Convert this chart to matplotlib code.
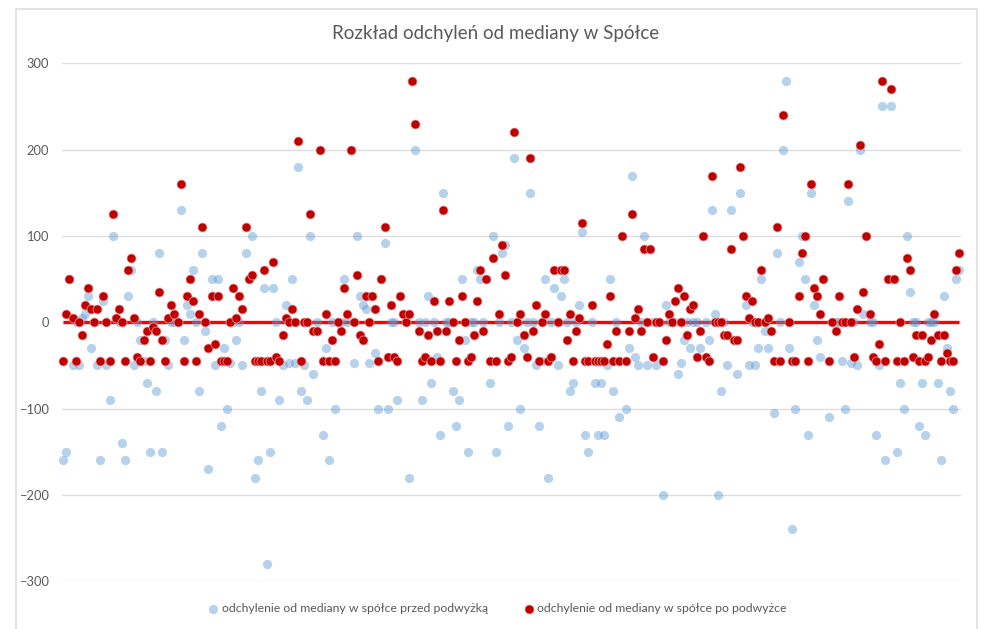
import numpy as np
import matplotlib
matplotlib.use('Agg')
import matplotlib.pyplot as plt
from matplotlib.patches import Rectangle

nan = float('nan')

title = 'Rozkład odchyleń od mediany w Spółce'
label_przed = 'odchylenie od mediany w spółce przed podwyżką'
label_po = 'odchylenie od mediany w spółce po podwyżce'
yticks = [-300, -200, -100, 0, 100, 200, 300]

# przed podwyzka
przed = [
  -160,-150,50,-50,0,-50,5,10,30,-30,
  0,-50,-160,25,-50,-90,100,5,0,-140,
  -160,30,60,-50,0,-20,-45,-70,-150,0,
  -80,80,-150,-20,-50,0,0,0,130,-20,
  20,10,60,0,-80,80,-10,-170,50,-50,
  50,-120,-30,-100,-47,0,-20,0,-50,80,
  50,100,-180,-160,-80,40,-280,-150,40,0,
  -90,-50,20,-47,50,-47,180,-80,-50,-90,
  100,-60,0,200,-130,-30,-160,0,-100,0,
  0,50,0,200,-47,100,30,20,15,-47,
  30,-35,-100,50,92,-100,0,0,-90,30,
  10,0,-180,280,200,0,-90,0,30,-70,
  0,-40,-130,150,0,0,-80,-120,-90,50,
  -20,-150,0,0,60,50,0,50,-70,100,
  -150,0,80,90,-120,0,190,-20,-100,-30,
  0,150,0,-50,-120,-45,50,-180,0,40,
  -50,30,50,0,-80,-70,0,20,105,-130,
  -150,0,-70,-130,-70,-130,-50,50,-80,0,
  -110,100,-100,-30,170,-40,-50,0,100,-50,
  85,0,-50,0,-200,20,0,0,0,-60,
  -47,-20,0,-30,0,0,-30,100,0,-20,
  130,10,-200,-80,0,-50,130,-20,-60,150,
  100,20,-50,0,-50,-30,50,-10,-30,-10,
  -105,80,0,200,280,-30,-240,-100,70,100,
  50,-130,150,20,-20,-40,50,nan,-110,0,
  0,0,-45,-100,140,-47,0,-50,200,10,
  100,0,0,-130,-50,250,-160,50,250,50,
  -150,-70,-100,100,35,0,0,-120,-70,-130,
  0,0,0,-70,-160,30,-30,-80,-100,50,60,
]

# po podwyzce
po = [
  -45,10,50,5,-45,0,-15,20,40,15,
  0,15,-45,30,0,-45,125,5,15,0,
  -45,60,75,5,-40,-45,-20,-10,-45,-5,
  -10,35,-20,-45,5,20,10,0,160,-45,
  30,50,25,-45,10,110,0,-30,30,-25,
  30,-45,-45,-45,0,40,5,30,15,110,
  50,55,-45,-45,-45,60,-45,-45,70,-40,
  -45,-15,5,0,15,0,210,-45,0,0,
  125,-10,-10,200,-45,10,-45,-20,-45,0,
  -10,40,10,200,0,55,-15,-20,30,0,
  30,15,-45,50,110,-40,20,-40,-45,30,
  10,0,10,280,230,-10,-45,-40,-15,-45,
  25,-10,-45,130,-10,25,0,-45,-20,30,
  0,-45,-40,-15,25,60,-10,50,-45,75,
  -45,10,90,55,-45,-40,220,0,10,-15,
  -40,190,-10,20,-45,0,10,-45,-40,60,
  0,60,60,-20,10,-45,-10,5,115,-45,
  -45,20,-45,-45,-45,-45,-25,30,-45,-10,
  -45,100,-45,-10,125,5,15,-10,85,0,
  85,-40,0,0,-45,-20,10,0,25,40,
  0,30,-15,15,20,-40,-10,100,-40,-45,
  170,0,0,0,-15,-15,85,-20,-20,180,
  100,30,5,25,0,0,60,0,5,-10,
  -45,110,-45,240,nan,0,-45,-45,30,80,
  100,-45,160,40,30,10,50,nan,-45,0,
  -10,30,0,0,160,0,-40,15,205,35,
  100,10,-40,-45,-25,280,-45,50,270,50,
  -45,0,-45,75,60,-40,-15,-45,-15,-45,
  -40,-20,10,-15,-45,-15,-35,-45,-45,60,80,
]

plt.rcParams['font.family'] = ['Lato', 'DejaVu Sans']

W, H = 982, 629
fig = plt.figure(figsize=(W/100, H/100), dpi=100)
ax = fig.add_axes([61.7/W, 1 - 581.3/H, 899/W, 518/H])

x = np.arange(len(przed))
mediana = np.zeros(len(przed))

ax.plot(x, mediana, color='#FF0000', lw=2.4, zorder=2, solid_capstyle='butt')
ax.scatter(x, przed, s=44, color='#5B9BD5', alpha=0.45, linewidths=0, zorder=3, clip_on=False, label=label_przed)
ax.scatter(x, po, s=42, color='#C00000', edgecolors='#E6A3A3', linewidths=0.5, zorder=4, clip_on=False, label=label_po)

ax.set_xlim(-0.5, len(przed) - 0.5)
ax.set_ylim(-300, 300)
ax.set_xticks([])
ax.set_yticks(yticks)
ax.tick_params(axis='y', length=0, pad=9, labelsize=9.3, labelcolor='#595959')
ax.grid(axis='y', color='#DDDDDD', lw=1)
ax.set_axisbelow(True)
for s in ax.spines.values():
  s.set_visible(False)

fig.text(496/W, 1 - 33/H, title, ha='center', va='center', fontsize=13.5, color='#595959')

ax.legend(loc='center', bbox_to_anchor=(498/W, 1 - 609/H), bbox_transform=fig.transFigure,
          ncol=2, frameon=False, fontsize=8.8, labelcolor='#595959',
          handlelength=0.7, handletextpad=0.35, columnspacing=3.0, borderpad=0)

# ramka wykresu
fig.add_artist(Rectangle((15.5/W, -0.02), 961/W, 1.02 - 9/H, transform=fig.transFigure,
                         fill=False, edgecolor='#DEDEDE', lw=1.2))

fig.savefig('out.png', dpi=100)
